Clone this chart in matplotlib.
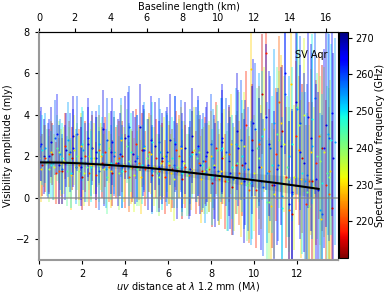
import numpy as np
import matplotlib as mpl
import matplotlib.pyplot as plt

# spectral windows (GHz) and the visibilities in each
freqs = [214, 218, 222, 229, 234, 238, 243, 249, 254, 259, 263, 266]

uv_sets = [
    [0.15, 0.62, 1.08, 1.55, 2.01, 2.48, 2.94, 3.41, 3.87, 4.34, 4.80, 5.27, 5.73, 6.20, 6.66,
     7.13, 7.59, 8.06, 8.52, 8.99, 9.45, 9.92, 10.38, 10.85, 11.31, 11.78, 12.24, 12.71, 13.17, 13.60],
    [0.30, 0.77, 1.23, 1.70, 2.16, 2.63, 3.09, 3.56, 4.02, 4.49, 4.95, 5.42, 5.88, 6.35, 6.81,
     7.28, 7.74, 8.21, 8.67, 9.14, 9.60, 10.07, 10.53, 11.00, 11.46, 11.93, 12.39, 12.86, 13.32],
    [0.45, 0.92, 1.38, 1.85, 2.31, 2.78, 3.24, 3.71, 4.17, 4.64, 5.10, 5.57, 6.03, 6.50, 6.96,
     7.43, 7.89, 8.36, 8.82, 9.29, 9.75, 10.22, 10.68, 11.15, 11.61, 12.08, 12.54, 13.01, 13.47],
    [0.08, 0.55, 1.01, 1.48, 1.94, 2.41, 2.87, 3.34, 3.80, 4.27, 4.73, 5.20, 5.66, 6.13, 6.59,
     7.06, 7.52, 7.99, 8.45, 8.92, 9.38, 9.85, 10.31, 10.78, 11.24, 11.71, 12.17, 12.64, 13.10, 13.55],
    [0.23, 0.70, 1.16, 1.63, 2.09, 2.56, 3.02, 3.49, 3.95, 4.42, 4.88, 5.35, 5.81, 6.28, 6.74,
     7.21, 7.67, 8.14, 8.60, 9.07, 9.53, 10.00, 10.46, 10.93, 11.39, 11.86, 12.32, 12.79, 13.25],
    [0.02, 0.48, 0.95, 1.41, 1.88, 2.34, 2.81, 3.27, 3.74, 4.20, 4.67, 5.13, 5.60, 6.06, 6.53,
     6.99, 7.46, 7.92, 8.39, 8.85, 9.32, 9.78, 10.25, 10.71, 11.18, 11.64, 12.11, 12.57, 13.04, 13.50],
    [0.38, 0.85, 1.31, 1.78, 2.24, 2.71, 3.17, 3.64, 4.10, 4.57, 5.03, 5.50, 5.96, 6.43, 6.89,
     7.36, 7.82, 8.29, 8.75, 9.22, 9.68, 10.15, 10.61, 11.08, 11.54, 12.01, 12.47, 12.94, 13.40],
    [0.12, 0.58, 1.05, 1.51, 1.98, 2.44, 2.91, 3.37, 3.84, 4.30, 4.77, 5.23, 5.70, 6.16, 6.63,
     7.09, 7.56, 8.02, 8.49, 8.95, 9.42, 9.88, 10.35, 10.81, 11.28, 11.74, 12.21, 12.67, 13.14, 13.58],
    [0.28, 0.64, 0.99, 1.35, 1.70, 2.06, 2.41, 2.77, 3.12, 3.48, 3.83, 4.19, 4.54, 4.90, 5.25,
     5.61, 5.96, 6.32, 6.67, 7.03, 7.38, 7.74, 8.09, 8.45, 8.80, 9.16, 9.51, 9.87, 10.22, 10.58,
     10.93, 11.29, 11.64, 12.00, 12.35, 12.71, 13.06, 13.42, 13.75],
    [0.05, 0.40, 0.74, 1.09, 1.43, 1.78, 2.12, 2.47, 2.81, 3.16, 3.50, 3.85, 4.19, 4.54, 4.88,
     5.23, 5.57, 5.92, 6.26, 6.61, 6.95, 7.30, 7.64, 7.99, 8.33, 8.68, 9.02, 9.37, 9.71, 10.06,
     10.40, 10.75, 11.09, 11.44, 11.78, 12.13, 12.47, 12.82, 13.16, 13.50],
    [0.10, 0.47, 0.83, 1.20, 1.56, 1.93, 2.29, 2.66, 3.02, 3.39, 3.75, 4.12, 4.48, 4.85, 5.21,
     5.58, 5.94, 6.31, 6.67, 7.04, 7.40, 7.77, 8.13, 8.50, 8.86, 9.23, 9.59, 9.96, 10.32, 10.69,
     11.05, 11.42, 11.78, 12.15, 12.51, 12.88, 13.24, 13.61],
    [0.22, 0.57, 0.91, 1.26, 1.60, 1.95, 2.29, 2.64, 2.98, 3.33, 3.67, 4.02, 4.36, 4.71, 5.05,
     5.40, 5.74, 6.09, 6.43, 6.78, 7.12, 7.47, 7.81, 8.16, 8.50, 8.85, 9.19, 9.54, 9.88, 10.23,
     10.57, 10.92, 11.26, 11.61, 11.95, 12.30, 12.64, 12.99, 13.33, 13.65],
]

amp_sets = [
    [1.6, 2.1, 1.3, 1.9, 1.0, 2.4, 1.7, 1.2, 2.0, 1.5, 2.3, 1.1, 1.8, 1.4, 0.9,
     2.2, 1.3, 0.7, 1.9, 0.5, 1.6, 2.8, 5.0, 0.6, 3.2, -0.8, 1.9, 0.8, 2.4, -0.5],
    [1.9, 1.2, 2.5, 1.5, 2.0, 1.1, 2.2, 1.7, 1.3, 2.6, 1.4, 1.9, 1.0, 2.3, 1.5,
     1.2, 1.8, 2.4, 0.8, 1.6, 3.5, 0.4, 7.0, 2.1, 1.0, 3.0, -0.3, 1.7, 0.6],
    [1.8, 1.3, 2.1, 1.6, 1.2, 2.3, 1.5, 1.9, 1.0, 1.7, 2.2, 1.3, 1.6, 2.0, 1.1,
     1.7, 1.4, 0.9, 2.1, 1.2, 0.4, 2.6, 1.3, 4.6, -0.6, 2.3, 0.8, 3.0, 0.2],
    [1.4, 2.2, 1.7, 1.1, 2.5, 1.6, 2.0, 1.3, 2.8, 1.5, 1.0, 2.1, 1.7, 1.2, 2.4,
     1.4, 0.9, 2.0, 1.3, 2.6, 0.7, 6.2, 1.5, -0.4, 3.6, 5.5, 0.9, 2.2, -1.0, 1.3],
    [2.0, 1.5, 1.8, 2.3, 1.2, 1.9, 1.4, 2.2, 1.6, 1.1, 2.4, 1.5, 2.0, 0.9, 1.7,
     2.3, 1.3, 1.6, 2.0, 0.9, 2.5, 1.2, 3.3, 0.2, 2.6, 1.0, 4.0, 0.5, 2.2],
    [1.9, 1.4, 2.2, 1.7, 1.3, 2.0, 1.6, 2.4, 1.2, 1.8, 1.5, 2.1, 1.0, 1.7, 1.9,
     1.3, 2.2, 1.5, 1.0, 1.8, 2.5, 0.7, 1.9, -0.2, 2.8, 0.9, 3.5, -0.4, 1.8, 1.0],
    [1.7, 2.4, 1.3, 2.0, 1.5, 2.2, 1.0, 1.8, 2.5, 1.4, 1.9, 1.2, 2.2, 1.5, 1.1,
     1.9, 1.4, 2.3, 0.8, 1.7, 0.6, 2.4, -0.2, 3.1, 1.5, 4.4, 0.3, 2.0, 1.2],
    [2.3, 1.6, 1.9, 1.2, 2.6, 1.5, 2.1, 1.7, 1.3, 2.2, 1.6, 2.7, 1.4, 1.9, 1.2,
     2.1, 1.6, 1.0, 2.4, 1.5, 2.0, 0.9, 3.0, 1.6, -0.5, 2.6, 1.2, 3.8, 0.7, 2.8],
    [2.4, 1.7, 2.1, 2.8, 1.5, 2.3, 1.9, 2.6, 1.4, 2.2, 2.9, 1.6, 2.0, 2.5, 1.3,
     2.2, 1.8, 2.7, 1.5, 2.0, 2.4, 1.2, 1.9, 2.3, 1.0, 2.6, 1.4, 0.7, 2.8, 1.2,
     3.6, 0.1, 2.0, 4.3, 0.8, 2.5, -0.6, 3.1, 2.7],
    [2.5, 1.8, 2.9, 1.4, 2.2, 3.1, 1.7, 2.4, 1.3, 2.8, 2.0, 1.5, 3.4, 1.9, 2.3,
     1.4, 2.7, 2.0, 1.6, 2.5, 1.2, 2.1, 1.8, 2.6, 1.3, 2.2, 0.9, 2.8, 1.4, 3.3,
     0.5, 2.4, 1.6, 5.0, 0.2, 3.6, 1.1, 4.8, -0.8, 2.9],
    [2.6, 2.0, 3.1, 1.7, 2.4, 1.9, 2.9, 2.2, 1.6, 2.7, 2.1, 3.0, 1.8, 2.3, 2.8,
     1.5, 2.2, 2.6, 1.8, 1.4, 2.5, 2.0, 1.5, 2.9, 1.2, 2.4, 1.7, 3.6, 0.8, 2.6,
     1.4, 6.0, 0.3, 2.2, 3.9, 0.9, 2.4, 4.1],
    [2.0, 2.7, 1.6, 2.3, 3.0, 1.5, 2.6, 1.9, 3.3, 2.2, 1.7, 2.9, 2.1, 3.4, 1.6,
     2.5, 1.9, 2.8, 1.3, 2.4, 3.0, 1.6, 2.2, 1.1, 2.7, 1.8, 3.2, 0.8, 2.3, 1.5,
     3.9, 0.6, 2.5, -0.3, 4.6, 1.7, 2.9, 0.4, 3.5, 1.9],
]

err_sets = [
    [1.5, 1.5, 1.6, 1.5, 1.6, 1.6, 1.7, 1.6, 1.7, 1.7, 1.8, 1.8, 1.8, 1.9, 1.9,
     2.0, 2.0, 2.1, 2.2, 2.3, 2.5, 2.7, 2.9, 3.0, 3.2, 3.4, 3.6, 3.8, 4.0, 4.2],
    [1.6, 1.5, 1.6, 1.6, 1.7, 1.6, 1.7, 1.7, 1.8, 1.7, 1.8, 1.9, 1.8, 1.9, 2.0,
     2.0, 2.1, 2.2, 2.3, 2.4, 2.6, 2.8, 3.0, 3.2, 3.4, 3.6, 3.8, 4.0, 4.1],
    [1.5, 1.6, 1.6, 1.7, 1.6, 1.7, 1.7, 1.8, 1.7, 1.8, 1.9, 1.8, 1.9, 2.0, 2.0,
     2.1, 2.1, 2.2, 2.3, 2.5, 2.6, 2.8, 3.0, 3.2, 3.4, 3.6, 3.8, 4.0, 4.2],
    [1.6, 1.5, 1.6, 1.7, 1.6, 1.7, 1.6, 1.8, 1.7, 1.8, 1.8, 1.9, 1.8, 1.9, 2.0,
     2.0, 2.1, 2.2, 2.3, 2.4, 2.6, 2.8, 3.0, 3.2, 3.3, 3.6, 3.8, 4.0, 4.1, 4.4],
    [1.5, 1.6, 1.6, 1.7, 1.6, 1.7, 1.7, 1.7, 1.8, 1.8, 1.8, 1.9, 1.9, 2.0, 2.0,
     2.1, 2.1, 2.2, 2.3, 2.5, 2.6, 2.8, 3.0, 3.1, 3.3, 3.5, 3.7, 3.9, 4.1],
    [1.6, 1.6, 1.5, 1.7, 1.7, 1.6, 1.8, 1.7, 1.8, 1.7, 1.9, 1.8, 1.9, 2.0, 1.9,
     2.1, 2.0, 2.2, 2.3, 2.4, 2.6, 2.7, 2.9, 3.1, 3.3, 3.5, 3.7, 3.9, 4.1, 4.3],
    [1.6, 1.6, 1.7, 1.6, 1.7, 1.7, 1.8, 1.7, 1.8, 1.8, 1.9, 1.9, 1.9, 2.0, 2.0,
     2.1, 2.2, 2.2, 2.4, 2.5, 2.7, 2.9, 3.0, 3.2, 3.4, 3.6, 3.8, 4.0, 4.2],
    [1.7, 1.6, 1.7, 1.7, 1.8, 1.7, 1.8, 1.8, 1.8, 1.9, 1.9, 1.9, 2.0, 2.0, 2.1,
     2.1, 2.2, 2.3, 2.4, 2.5, 2.7, 2.9, 3.1, 3.3, 3.5, 3.7, 3.9, 4.1, 4.3, 4.6],
    [1.7, 1.8, 1.7, 1.8, 1.8, 1.9, 1.8, 1.9, 1.9, 2.0, 1.9, 2.0, 2.0, 2.1, 2.1,
     2.1, 2.2, 2.2, 2.2, 2.3, 2.3, 2.4, 2.4, 2.5, 2.6, 2.7, 2.9, 3.0, 3.2, 3.4,
     3.6, 3.8, 3.9, 4.1, 4.3, 4.5, 4.7, 4.9, 5.0],
    [1.7, 1.8, 1.8, 1.7, 1.9, 1.8, 1.9, 1.8, 1.9, 2.0, 1.9, 2.0, 2.0, 2.1, 2.0,
     2.1, 2.1, 2.2, 2.1, 2.2, 2.2, 2.3, 2.3, 2.4, 2.4, 2.6, 2.7, 2.9, 3.0, 3.2,
     3.3, 3.5, 3.7, 3.9, 4.0, 4.2, 4.4, 4.6, 4.8, 5.0],
    [1.8, 1.8, 1.9, 1.8, 1.9, 2.0, 1.9, 2.0, 2.0, 2.1, 2.0, 2.1, 2.1, 2.2, 2.1,
     2.2, 2.2, 2.3, 2.3, 2.3, 2.4, 2.4, 2.5, 2.6, 2.7, 2.8, 3.0, 3.1, 3.3, 3.5,
     3.7, 3.9, 4.0, 4.2, 4.4, 4.6, 4.8, 5.0],
    [1.8, 1.7, 1.9, 1.8, 1.9, 1.9, 1.8, 2.0, 1.9, 2.0, 2.1, 2.0, 2.1, 2.1, 2.2,
     2.1, 2.2, 2.2, 2.3, 2.2, 2.3, 2.4, 2.4, 2.5, 2.5, 2.7, 2.8, 3.0, 3.1, 3.3,
     3.5, 3.6, 3.8, 4.0, 4.1, 4.3, 4.5, 4.7, 4.9, 5.1],
]

# fitted model and its uncertainty
model_uv = [0, 1, 2, 3, 4, 5, 6, 7, 8, 9, 10, 11, 12, 13]
model_amp = [1.71, 1.70, 1.66, 1.60, 1.53, 1.45, 1.35, 1.22, 1.10, 0.98, 0.85, 0.72, 0.58, 0.43]
model_sig = [0.12, 0.12, 0.13, 0.14, 0.15, 0.17, 0.19, 0.21, 0.24, 0.28, 0.33, 0.38, 0.42, 0.45]

cmap = plt.get_cmap('jet_r')
norm = mpl.colors.Normalize(vmin=210, vmax=271.5)

fig = plt.figure(figsize=(3.88, 2.95), dpi=100)
ax = fig.add_axes([39/388, 35/295, 299/388, 228/295])

for f, u, a, e in zip(freqs, uv_sets, amp_sets, err_sets):
    c = cmap(norm(f))
    ax.errorbar(u, a, yerr=e, fmt='none', ecolor=c, alpha=0.4, elinewidth=1.3)
for f, u, a in zip(freqs, uv_sets, amp_sets):
    ax.plot(u, a, 'o', ms=1.5, mew=0, color=cmap(norm(f)))

mu = np.array(model_amp)
sg = np.array(model_sig)
ax.fill_between(model_uv, mu - sg, mu + sg, color='gray', alpha=0.35, lw=0)
ax.plot(model_uv, model_amp, color='black', lw=1.5)
ax.axhline(0, color='gray', lw=1.2, alpha=0.7)

ax.set_xlim(0, 13.9)
ax.set_ylim(-3, 8)
ax.set_xticks([0, 2, 4, 6, 8, 10, 12])
ax.set_yticks([-2, 0, 2, 4, 6, 8])
ax.tick_params(labelsize=7, length=3)
for s in ['left', 'bottom']:
    ax.spines[s].set_color('#999999')
    ax.spines[s].set_linewidth(1.5)
ax.set_xlabel(r'$uv$ distance at $\lambda$ 1.2 mm (M$\lambda$)', fontsize=7, labelpad=1)
ax.set_ylabel('Visibility amplitude (mJy)', fontsize=7, labelpad=2)
ax.text(0.965, 0.9, 'SV Aqr', transform=ax.transAxes, ha='right', va='center', fontsize=7)

top = ax.secondary_xaxis('top', functions=(lambda x: x * 1.2, lambda x: x / 1.2))
top.set_xticks([0, 2, 4, 6, 8, 10, 12, 14, 16])
top.tick_params(labelsize=7, length=3)
top.set_xlabel('Baseline length (km)', fontsize=7, labelpad=2)

cax = fig.add_axes([339/388, 37/295, 9/388, 226/295])
cb = fig.colorbar(mpl.cm.ScalarMappable(norm=norm, cmap=cmap), cax=cax)
cb.set_ticks([220, 230, 240, 250, 260, 270])
cb.ax.tick_params(labelsize=7, length=3, pad=2)
cb.set_label('Spectral window frequency (GHz)', fontsize=7, labelpad=1)

fig.savefig('out.png', dpi=100)
